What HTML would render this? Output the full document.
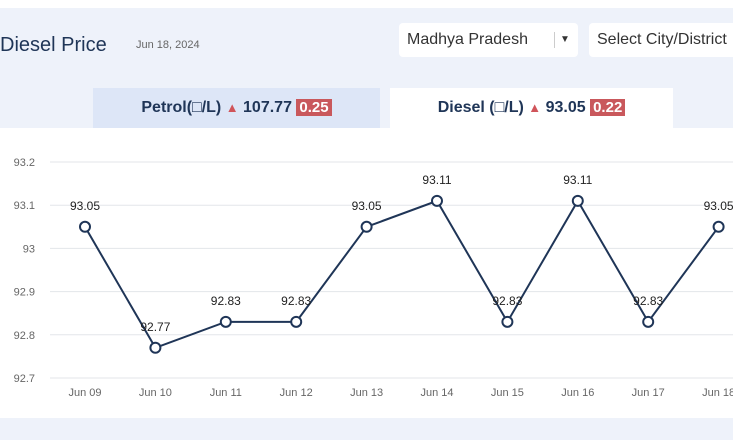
<!DOCTYPE html>
<html><head><meta charset="utf-8"><style>
body{margin:0;width:733px;height:440px;overflow:hidden;background:#fff;font-family:"Liberation Sans",sans-serif;position:relative}
.hdr{position:absolute;left:0;top:8px;width:733px;height:120px;background:#eef2fa}
.abs{position:absolute}
.box{position:absolute;background:#fff;border-radius:4px;font-size:16px;color:#333;line-height:34px}
.tab{position:absolute;top:88px;height:40px;line-height:40px;text-align:center;font-size:16px;font-weight:bold;color:#1f3557}
.up{color:#d0545a;font-size:13px}
.chg{background:#c9585c;color:#fff;padding:0 3px;font-size:15px}
</style></head><body>
<div class="hdr"></div>
<div class="abs" style="left:0;top:34px;font-size:20px;color:#1f3557">Diesel Price</div>
<div class="abs" style="left:136px;top:39px;font-size:11px;color:#666">Jun 18, 2024</div>
<div class="box" style="left:399px;top:23px;width:179px;height:34px"><span style="margin-left:8px">Madhya Pradesh</span><span style="position:absolute;left:155px;top:9px;height:16px;border-left:1px solid #ccc"></span><span style="position:absolute;left:161px;font-size:10px">▼</span></div>
<div class="box" style="left:589px;top:23px;width:150px;height:34px"><span style="margin-left:8px;white-space:nowrap">Select City/District</span></div>
<div class="tab" style="left:93px;width:287px;background:#dde6f7">Petrol(□/L) <span class="up">▲</span> 107.77 <span class="chg">0.25</span></div>
<div class="tab" style="left:390px;width:283px;background:#fff">Diesel (□/L) <span class="up">▲</span> 93.05 <span class="chg">0.22</span></div>
<div class="abs" style="left:0;top:418px;width:733px;height:22px;background:#eef2fa"></div>
<svg id="chart" class="abs" style="left:0;top:128px" width="733" height="290"></svg>
<script>
const categories=["Jun 09","Jun 10","Jun 11","Jun 12","Jun 13","Jun 14","Jun 15","Jun 16","Jun 17","Jun 18"];
const values=[93.05,92.77,92.83,92.83,93.05,93.11,92.83,93.11,92.83,93.05];
const yTicks=[92.7,92.8,92.9,93,93.1,93.2];
const svg=document.getElementById('chart');const NS='http://www.w3.org/2000/svg';
const y=v=>34+(93.2-v)/0.5*216;
const x=i=>85+i*70.4;
function mk(t,a,txt){const e=document.createElementNS(NS,t);for(const k in a)e.setAttribute(k,a[k]);if(txt!==undefined)e.textContent=txt;svg.appendChild(e);return e;}
yTicks.forEach(t=>{
const g=mk('line',{x1:50,x2:733,y1:y(t),y2:y(t),stroke:'#e3e6ea'});


const l=mk('text',{x:35,y:y(t)+4,'text-anchor':'end','font-size':11,fill:'#666'},String(t));


});
categories.forEach((c,i)=>{
const l=mk('text',{x:x(i),y:268,'text-anchor':'middle','font-size':11,fill:'#666'},c);


});
const line=mk('polyline',{points:values.map((v,i)=>x(i)+','+y(v)).join(' '),fill:'none',stroke:'#1f3557','stroke-width':2});


values.forEach((v,i)=>{
const p=mk('circle',{cx:x(i),cy:y(v),r:5,fill:'#fff',stroke:'#1f3557','stroke-width':2});


const l=mk('text',{x:x(i),y:y(v)-17,'text-anchor':'middle','font-size':12,fill:'#222'},v.toFixed(2));


});
</script>
</body></html>
